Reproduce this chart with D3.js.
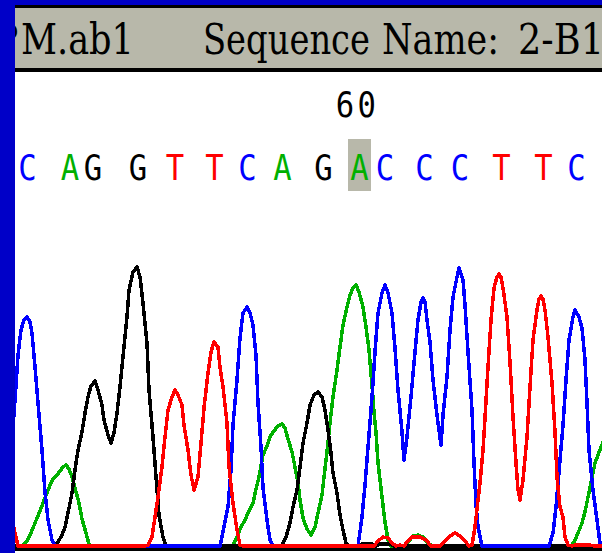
<!DOCTYPE html>
<html>
<head>
<meta charset="utf-8">
<script src="https://cdn.jsdelivr.net/npm/d3@7"></script>
<style>
  html, body { margin: 0; padding: 0; background: #ffffff; }
  svg { display: block; }
  text { font-kerning: none; }
</style>
</head>
<body>
<svg id="chart" width="602" height="553"></svg>
<script>
// ---- Trace file details ----
const fileNameTail = "PM.ab1";
const sequenceLabel = "Sequence Name:";
const sequenceName = "2-B1";

// ---- Base calls in the visible window (scan position of each call) ----
const baseCalls = ["C", "A", "G", "G", "T", "T", "C", "A", "G", "A", "C", "C", "C", "T", "T", "C"];
const baseScans = [27.5, 70, 93, 138, 175, 214.5, 247.5, 282.5, 323.5, 359.5, 385, 424.5, 460, 501.5, 543.5, 576.5];
const firstBaseNumber = 51;
const selectedBaseNumber = 60;
const baseNumberTicks = [60];

// ---- Dye channels: [scan, signal] ----
const traceA = [
  [20, 0], [23, 1], [27, 5], [30, 11], [33, 18], [37, 28], [40, 35], [43, 43], [47, 53], [50, 61],
  [53, 67], [57, 71], [60, 75], [63, 79], [66, 81], [69, 77], [72, 69], [75, 58], [79, 43], [82, 27],
  [86, 13], [89, 2], [92, 0], [230, 0], [233, 1], [237, 9], [240, 17], [245, 26], [248, 33], [253, 43],
  [256, 57], [259, 69], [263, 91], [267, 100], [270, 109], [273, 114], [278, 120], [282, 122], [285, 118],
  [288, 107], [292, 94], [295, 79], [298, 63], [300, 46], [303, 28], [307, 17], [311, 11], [315, 19],
  [318, 33], [322, 51], [324, 69], [327, 94], [330, 123], [333, 149], [337, 176], [340, 199], [343, 221],
  [347, 239], [350, 251], [353, 258], [356, 261], [359, 254], [363, 239], [366, 219], [369, 196], [372, 161],
  [374, 134], [376, 114], [378, 83], [382, 49], [385, 24], [388, 6], [391, 0], [404, 0], [409, 5], [413, 10],
  [418, 11], [423, 9], [428, 3], [432, 0], [568, 0], [572, 1], [575, 6], [578, 13], [582, 23], [585, 34],
  [588, 49], [592, 68], [595, 83], [598, 91], [601, 99], [605, 109]
];
const traceC = [
  [10, 76], [15, 146], [18, 191], [21, 216], [24, 226], [27, 229], [30, 224], [32, 213], [35, 179], [38, 143],
  [42, 96], [45, 54], [48, 26], [52, 6], [55, 0], [220, 0], [223, 14], [228, 39], [231, 76], [233, 121],
  [237, 166], [240, 208], [243, 233], [247, 239], [250, 233], [253, 221], [256, 191], [258, 143], [261, 99],
  [263, 58], [267, 26], [270, 6], [273, 0], [358, 0], [362, 29], [365, 61], [368, 99], [372, 149], [375, 194],
  [378, 233], [382, 253], [385, 261], [388, 253], [392, 233], [395, 198], [398, 156], [402, 114], [404, 86],
  [407, 109], [411, 149], [415, 194], [418, 226], [421, 244], [423, 248], [425, 244], [427, 226], [430, 204],
  [433, 166], [437, 131], [441, 101], [443, 131], [447, 169], [450, 216], [453, 249], [457, 269], [459, 278],
  [463, 266], [465, 241], [468, 194], [472, 136], [474, 83], [476, 41], [478, 19], [482, 0], [549, 0],
  [553, 13], [556, 39], [559, 74], [563, 121], [566, 166], [569, 206], [573, 229], [575, 236], [579, 229],
  [582, 218], [585, 186], [587, 143], [589, 96], [593, 56], [597, 26], [600, 3], [605, 0]
];
const traceG = [
  [15, 0], [52, 0], [55, 1], [58, 4], [62, 11], [65, 19], [68, 33], [72, 53], [75, 76], [78, 96], [82, 114],
  [85, 133], [88, 149], [91, 160], [95, 165], [98, 156], [102, 141], [104, 126], [108, 111], [111, 103],
  [114, 113], [117, 133], [120, 159], [123, 189], [127, 229], [129, 256], [133, 274], [137, 279], [140, 269],
  [143, 243], [147, 203], [149, 156], [153, 109], [156, 69], [159, 31], [163, 9], [166, 0], [279, 0],
  [282, 1], [286, 9], [290, 23], [293, 39], [297, 56], [300, 79], [303, 103], [307, 123], [310, 141],
  [314, 151], [318, 154], [322, 149], [325, 136], [328, 116], [331, 93], [333, 73], [337, 53], [340, 31],
  [343, 16], [346, 3], [349, 0], [358, 0], [362, 2], [372, 2], [376, 0], [380, 2], [390, 2], [394, 0], [605, 0]
];
const traceT = [
  [10, 36], [15, 13], [18, 0], [145, 0], [148, 1], [152, 9], [155, 29], [158, 49], [162, 79], [165, 109],
  [168, 136], [172, 149], [175, 156], [178, 151], [182, 141], [184, 121], [188, 96], [191, 71], [194, 56],
  [198, 69], [201, 103], [204, 138], [208, 173], [211, 194], [214, 204], [218, 199], [220, 179], [223, 159],
  [227, 123], [229, 79], [233, 43], [237, 16], [240, 1], [243, 0], [374, 0], [378, 5], [383, 9], [388, 8],
  [392, 3], [396, 0], [400, 1], [404, 0], [407, 4], [412, 9], [420, 9], [426, 6], [431, 0], [440, 0],
  [444, 4], [450, 10], [455, 13], [460, 10], [465, 5], [469, 0], [472, 1], [475, 19], [478, 46], [480, 63],
  [483, 96], [485, 128], [488, 179], [491, 226], [494, 258], [497, 269], [499, 272], [501, 269], [503, 258],
  [507, 229], [510, 184], [513, 129], [516, 83], [518, 56], [520, 46], [523, 66], [527, 109], [530, 159],
  [533, 206], [537, 236], [539, 247], [541, 250], [543, 247], [545, 236], [548, 209], [552, 163], [555, 114],
  [557, 69], [560, 39], [563, 29], [565, 9], [568, 1], [572, 0], [575, 1], [590, 1], [594, 0], [605, 0]
];

const channels = [
  { base: "A", color: "#00b000", data: traceA },
  { base: "G", color: "#000000", data: traceG },
  { base: "C", color: "#0000ff", data: traceC },
  { base: "T", color: "#ff0000", data: traceT }
];
const baseColor = { A: "#00b000", C: "#0000ff", G: "#000000", T: "#ff0000" };

// ---- Frame ----
const W = 602, H = 553;
const frameBlue = "#0000c8";
const panelGrey = "#b8b8aa";
const plotLeft = 15;

const svg = d3.select("#chart");

const x = d3.scaleLinear().domain([0, 602]).range([0, 602]);
const y = d3.scaleLinear().domain([0, 300]).range([546, 246]);

svg.append("rect").attr("width", W).attr("height", H).attr("fill", "#ffffff");

const defs = svg.append("defs");
defs.append("clipPath").attr("id", "plot-clip")
  .append("rect").attr("x", plotLeft).attr("y", 72).attr("width", W - plotLeft).attr("height", 476);
defs.append("clipPath").attr("id", "title-clip")
  .append("rect").attr("x", plotLeft).attr("y", 8).attr("width", W - plotLeft).attr("height", 60);

// Title bar
svg.append("rect").attr("x", 0).attr("y", 0).attr("width", W).attr("height", 5).attr("fill", frameBlue);
svg.append("rect").attr("x", 0).attr("y", 5).attr("width", W).attr("height", 3).attr("fill", "#000");
svg.append("rect").attr("x", 0).attr("y", 8).attr("width", W).attr("height", 60).attr("fill", panelGrey);
svg.append("rect").attr("x", 0).attr("y", 68).attr("width", W).attr("height", 4).attr("fill", "#000");

const title = svg.append("g").attr("clip-path", "url(#title-clip)")
  .attr("font-family", "'DejaVu Serif', serif").attr("font-size", 42).attr("fill", "#000");
title.append("text").attr("x", 18.5).attr("y", 54).attr("text-anchor", "end")
  .text(fileNameTail.slice(0, 1));
title.append("text").attr("x", 21).attr("y", 54)
  .attr("textLength", 113).attr("lengthAdjust", "spacingAndGlyphs")
  .text(fileNameTail.slice(1));
title.append("text").attr("x", 203).attr("y", 54)
  .attr("textLength", 167).attr("lengthAdjust", "spacingAndGlyphs")
  .text(sequenceLabel.split(" ")[0]);
title.append("text").attr("x", 382).attr("y", 54)
  .attr("textLength", 117).attr("lengthAdjust", "spacingAndGlyphs")
  .text(sequenceLabel.split(" ")[1]);
title.append("text").attr("x", 518).attr("y", 54)
  .attr("textLength", 86).attr("lengthAdjust", "spacingAndGlyphs")
  .text(sequenceName);

// Selected base highlight
const selIdx = selectedBaseNumber - firstBaseNumber;
svg.append("rect")
  .attr("x", x(baseScans[selIdx]) - 11.5).attr("y", 139)
  .attr("width", 23).attr("height", 52)
  .attr("fill", panelGrey);

// Base number ticks
const mono = "'DejaVu Sans Mono', monospace";
svg.append("g").selectAll("text").data(baseNumberTicks).join("text")
  .attr("transform", d => `translate(${x(baseScans[d - firstBaseNumber]) - 2},117) scale(0.85,1)`)
  .attr("text-anchor", "middle")
  .attr("font-family", mono).attr("font-size", 36)
  .attr("letter-spacing", 4)
  .attr("fill", "#000")
  .text(d => d);

// Base calls
svg.append("g").selectAll("text").data(baseCalls).join("text")
  .attr("transform", (d, i) => `translate(${x(baseScans[i])},180) scale(0.85,1)`)
  .attr("text-anchor", "middle")
  .attr("font-family", mono).attr("font-size", 36)
  .attr("fill", d => baseColor[d])
  .text(d => d);

// Traces
const line = d3.line().x(d => x(d[0])).y(d => y(d[1]));
svg.append("g").attr("clip-path", "url(#plot-clip)")
  .selectAll("path").data(channels).join("path")
  .attr("d", d => line(d.data))
  .attr("fill", "none")
  .attr("stroke", d => d.color)
  .attr("stroke-width", 3.5)
  .attr("stroke-linejoin", "round")
  .attr("shape-rendering", "crispEdges");

// Baseline axis
const axis = d3.axisBottom(x).tickValues([]).tickSizeOuter(0);
const axisG = svg.append("g").attr("transform", "translate(0,549.5)").call(axis);
axisG.select(".domain").attr("stroke", "#000").attr("stroke-width", 3)
  .attr("d", `M${plotLeft},0H${W}`);

// Left frame edge
svg.append("rect").attr("x", 0).attr("y", 0).attr("width", plotLeft).attr("height", H).attr("fill", frameBlue);
</script>
</body>
</html>
